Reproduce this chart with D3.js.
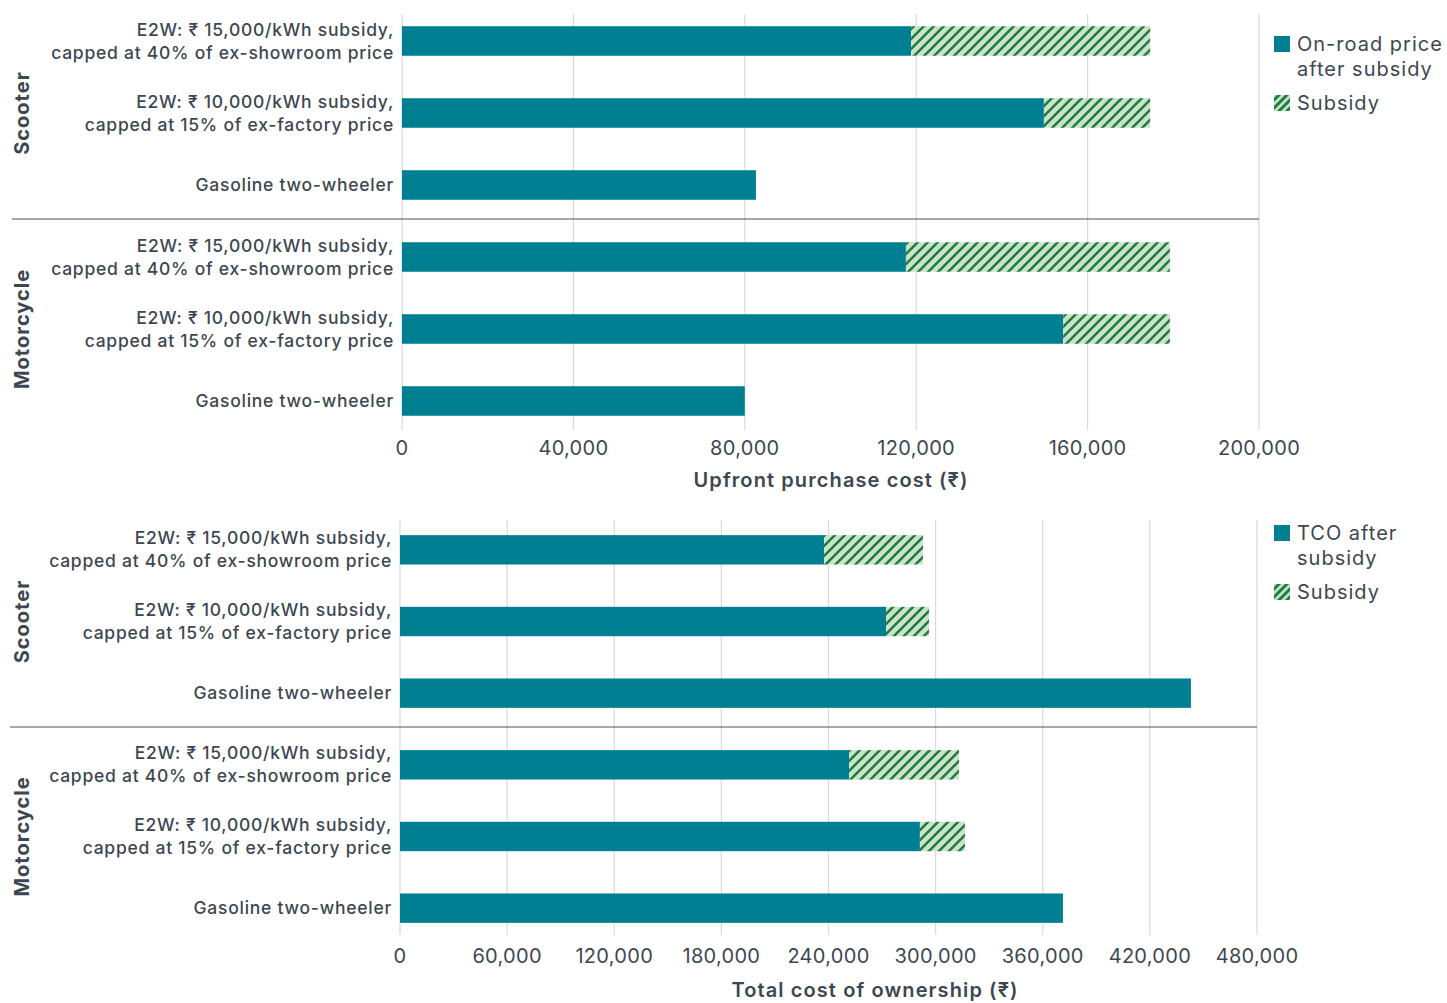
<!DOCTYPE html>
<html lang="en">
<head>
<meta charset="utf-8">
<title>E2W subsidy comparison</title>
<script src="https://cdn.jsdelivr.net/npm/d3@7"></script>
<style>
  body { margin: 0; background: #fff; }
  text { font-family: Inter, "Open Sans", sans-serif; fill: #3d4751; }
  .cat { font-size: 17.5px; font-weight: 500; letter-spacing: 0.75px; }
  .grp { font-size: 20px; font-weight: 700; letter-spacing: 1px; }
  .tick-lbl { font-size: 20px; font-weight: 400; letter-spacing: 0.3px; }
  .ax-title { font-size: 20px; font-weight: 600; letter-spacing: 1.1px; }
  .leg { font-size: 20px; font-weight: 400; letter-spacing: 1px; }
</style>
</head>
<body>
<div id="chart"></div>
<script>
// rows, top to bottom
var groups = ["Scooter", "Motorcycle"];
var rowLabels = [
  ["E2W: \u20B9 15,000/kWh subsidy,", "capped at 40% of ex-showroom price"],
  ["E2W: \u20B9 10,000/kWh subsidy,", "capped at 15% of ex-factory price"],
  ["Gasoline two-wheeler"],
  ["E2W: \u20B9 15,000/kWh subsidy,", "capped at 40% of ex-showroom price"],
  ["E2W: \u20B9 10,000/kWh subsidy,", "capped at 15% of ex-factory price"],
  ["Gasoline two-wheeler"]
];

// upfront purchase cost (rupees)
var upfrontAfter   = [118800, 149800, 82600, 117600, 154300, 80000];
var upfrontSubsidy = [55800, 24800, 0, 61600, 24900, 0];
var upfrontTicks   = [0, 40000, 80000, 120000, 160000, 200000];

// total cost of ownership (rupees)
var tcoAfter   = [237500, 272200, 443000, 251500, 291200, 371300];
var tcoSubsidy = [55400, 24100, 0, 61600, 25200, 0];
var tcoTicks   = [0, 60000, 120000, 180000, 240000, 300000, 360000, 420000, 480000];

var width = 1447, height = 1003;
var teal = "#007e92";

var svg = d3.select("#chart").append("svg")
    .attr("width", width)
    .attr("height", height);

var defs = svg.append("defs");
function hatch(id, size, sw) {
  var p = defs.append("pattern")
      .attr("id", id)
      .attr("patternUnits", "userSpaceOnUse")
      .attr("width", size).attr("height", size);
  p.append("rect").attr("width", size).attr("height", size).attr("fill", "#cfe1cb");
  p.append("path")
      .attr("d", "M-1,1 l2,-2 M0," + size + " l" + size + "," + (-size) + " M" + (size - 1) + "," + (size + 1) + " l2,-2")
      .attr("stroke", "#1b7f40")
      .attr("stroke-width", sw);
}
hatch("hatch", 10, 2.6);
hatch("hatchLeg", 8, 3);

function panel(opt) {
  var x = d3.scaleLinear().domain([0, opt.max]).range([opt.x0, opt.x1]);
  var y = d3.scalePoint().domain(d3.range(6)).range([opt.yTop, opt.yBot]).padding(0.5);
  var bh = y.step() * 0.41;

  var g = svg.append("g");

  // gridlines
  g.append("g").selectAll("line")
    .data(opt.ticks)
    .enter().append("line")
      .attr("x1", d => x(d)).attr("x2", d => x(d))
      .attr("y1", opt.gridTop).attr("y2", opt.gridBot)
      .attr("stroke", "#d9d9d9")
      .attr("stroke-width", 1.2);

  // tick labels
  g.append("g").selectAll("text")
    .data(opt.ticks)
    .enter().append("text")
      .attr("class", "tick-lbl")
      .attr("x", d => x(d))
      .attr("y", opt.gridBot + opt.tickDy)
      .attr("text-anchor", "middle")
      .text(d3.format(","));

  g.append("text")
      .attr("class", "ax-title")
      .attr("x", opt.titleX)
      .attr("y", opt.gridBot + opt.titleDy)
      .attr("text-anchor", "middle")
      .text(opt.title);

  // separator between groups
  var sepY = (y(2) + y(3)) / 2 - 2;
  g.append("line")
      .attr("x1", opt.sepX).attr("x2", opt.x1)
      .attr("y1", sepY).attr("y2", sepY)
      .attr("stroke", "#4a5560")
      .attr("stroke-width", 1.2);

  // bars
  var rows = d3.range(6).map(i => ({i: i, a: opt.after[i], s: opt.subsidy[i]}));
  g.append("g").selectAll("rect")
    .data(rows)
    .enter().append("rect")
      .attr("x", x(0))
      .attr("y", d => y(d.i) - bh / 2)
      .attr("width", d => x(d.a) - x(0))
      .attr("height", bh)
      .attr("fill", teal);

  g.append("g").selectAll("rect")
    .data(rows.filter(d => d.s > 0))
    .enter().append("rect")
      .attr("x", d => x(d.a))
      .attr("y", d => y(d.i) - bh / 2)
      .attr("width", d => x(d.a + d.s) - x(d.a))
      .attr("height", bh)
      .attr("fill", "url(#hatch)");

  // category labels
  var lab = g.append("g").selectAll("text")
    .data(rows)
    .enter().append("text")
      .attr("class", "cat")
      .attr("text-anchor", "end")
      .attr("x", x(0) - 8)
      .attr("y", d => y(d.i));
  lab.selectAll("tspan")
    .data(d => rowLabels[d.i].map((t, k, arr) => ({t: t, k: k, n: arr.length})))
    .enter().append("tspan")
      .attr("x", x(0) - 8)
      .attr("dy", d => d.k === 0 ? ((-(d.n - 1) * 23) / 2 + 6) + "px" : "23px")
      .text(d => d.t);

  // group labels
  groups.forEach(function(name, gi) {
    var cy = y(gi * 3 + 1);
    g.append("text")
        .attr("class", "grp")
        .attr("transform", "translate(29," + cy + ") rotate(-90)")
        .attr("text-anchor", "middle")
        .text(name);
  });

  // legend
  var lg = g.append("g").attr("transform", "translate(1274," + opt.legY + ")");
  lg.append("rect").attr("width", 16).attr("height", 16).attr("fill", teal);
  opt.legend.forEach(function(t, k) {
    lg.append("text").attr("class", "leg").attr("x", 23).attr("y", 15 + k * 25).text(t);
  });
  var off = 15 + opt.legend.length * 25 + 9;
  lg.append("rect").attr("y", off - 15).attr("width", 16).attr("height", 16).attr("fill", "url(#hatchLeg)");
  lg.append("text").attr("class", "leg").attr("x", 23).attr("y", off).text("Subsidy");
}

panel({
  max: 200000, ticks: upfrontTicks, x0: 402, x1: 1259,
  yTop: 5, yBot: 437, gridTop: 14, gridBot: 430, sepX: 12,
  tickDy: 25, titleDy: 57,
  after: upfrontAfter, subsidy: upfrontSubsidy,
  title: "Upfront purchase cost (\u20B9)", titleX: 831,
  legY: 36, legend: ["On-road price", "after subsidy"]
});

panel({
  max: 480000, ticks: tcoTicks, x0: 400, x1: 1257,
  yTop: 514, yBot: 944, gridTop: 520, gridBot: 935, sepX: 10,
  tickDy: 28, titleDy: 62,
  after: tcoAfter, subsidy: tcoSubsidy,
  title: "Total cost of ownership (\u20B9)", titleX: 875,
  legY: 525, legend: ["TCO after", "subsidy"]
});
</script>
</body>
</html>
